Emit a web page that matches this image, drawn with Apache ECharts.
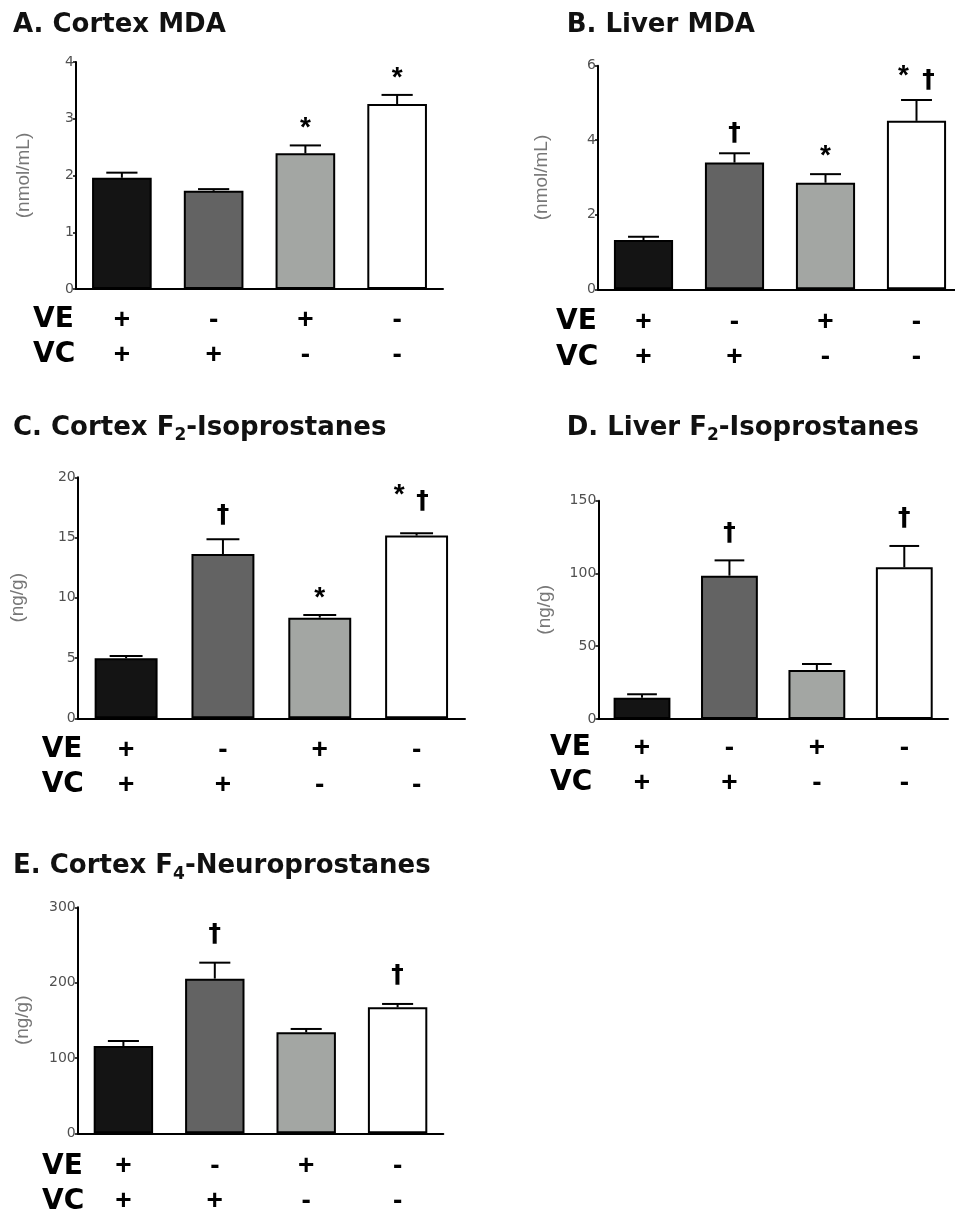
<!DOCTYPE html>
<html><head><meta charset="utf-8">
<script src="https://cdn.jsdelivr.net/npm/echarts@6/dist/echarts.min.js"></script>
<style>html,body{margin:0;padding:0;background:#fff}#c{width:955px;height:1213px}</style>
</head><body><div id="c"></div>
<script>
// ---- data ----
const categories = ['VE+ VC+', 'VE- VC+', 'VE+ VC-', 'VE- VC-'];
const veSigns = ['+', '-', '+', '-'];
const vcSigns = ['+', '+', '-', '-'];

const cortexMdaMean = [1.96, 1.73, 2.39, 3.26];
const cortexMdaSem  = [0.09, 0.03, 0.14, 0.16];
const cortexMdaSig  = ['', '', '*', '*'];

const liverMdaMean = [1.32, 3.40, 2.86, 4.52];
const liverMdaSem  = [0.09, 0.25, 0.23, 0.56];
const liverMdaSig  = ['', '†', '*', '*†'];

const cortexIsoMean = [4.98, 13.63, 8.35, 15.16];
const cortexIsoSem  = [0.19, 1.22, 0.22, 0.19];
const cortexIsoSig  = ['', '†', '*', '*†'];

const liverIsoMean = [14.6, 98.5, 33.7, 104.2];
const liverIsoSem  = [2.4, 10.5, 4.1, 14.7];
const liverIsoSig  = ['', '†', '', '†'];

const cortexNeuroMean = [115.9, 205.3, 134.1, 167.3];
const cortexNeuroSem  = [6.6, 21.2, 4.4, 4.4];
const cortexNeuroSig  = ['', '†', '', '†'];

const yMaxA = 4, yIntA = 1;
const yMaxB = 6, yIntB = 2;
const yMaxC = 20, yIntC = 5;
const yMaxD = 150, yIntD = 50;
const yMaxE = 300, yIntE = 100;

// ---- styling / layout ----
const barColors = ['#141414', '#636363', '#a3a6a3', '#ffffff'];
const TITLE_FONT = '"DejaVu Sans", sans-serif';
const ARIAL = '"Liberation Sans", Arial, sans-serif';

const panels = [
  { title: [['b','A. Cortex MDA']], mean: cortexMdaMean, sem: cortexMdaSem, sig: cortexMdaSig,
    max: yMaxA, interval: yIntA, unit: '(nmol/mL)',
    grid: {left: 76, top: 62, width: 367, height: 227}, nameGap: 43, labelMargin: 13.5,
    titlePos: [13, 25], vePos: [33, 320], vcPos: [33, 355],
    off: {'*': [0, -23], '†': [0, -22]} },
  { title: [['b','B. Liver MDA']], mean: liverMdaMean, sem: liverMdaSem, sig: liverMdaSig,
    max: yMaxB, interval: yIntB, unit: '(nmol/mL)',
    grid: {left: 598, top: 65.7, width: 364, height: 223.6}, nameGap: 47, labelMargin: 15.5,
    titlePos: [566.7, 25], vePos: [556, 322], vcPos: [556, 358],
    off: {'*': [0, -24], '†': [0, -18]}, combo: {'*': [-13, -30], '†': [12, -17]} },
  { title: [['b','C. Cortex F'],['s','2'],['b','-Isoprostanes']], mean: cortexIsoMean, sem: cortexIsoSem, sig: cortexIsoSig,
    max: yMaxC, interval: yIntC, unit: '(ng/g)',
    grid: {left: 77.7, top: 477.3, width: 387.3, height: 241}, nameGap: 50, labelMargin: 14.5,
    titlePos: [13, 428], vePos: [41.7, 750], vcPos: [41.7, 785],
    off: {'*': [0, -23], '†': [0, -22]}, combo: {'*': [-17.5, -44], '†': [6, -30]} },
  { title: [['b','D. Liver F'],['s','2'],['b','-Isoprostanes']], mean: liverIsoMean, sem: liverIsoSem, sig: liverIsoSig,
    max: yMaxD, interval: yIntD, unit: '(ng/g)',
    grid: {left: 598.3, top: 500.7, width: 349.7, height: 218.3}, nameGap: 44, labelMargin: 11.5,
    titlePos: [566.7, 428], vePos: [550, 748], vcPos: [550, 783],
    off: {'*': [0, -23], '†': [0, -25]} },
  { title: [['b','E. Cortex F'],['s','4'],['b','-Neuroprostanes']], mean: cortexNeuroMean, sem: cortexNeuroSem, sig: cortexNeuroSig,
    max: yMaxE, interval: yIntE, unit: '(ng/g)',
    grid: {left: 77.7, top: 907.3, width: 365.6, height: 226}, nameGap: 45, labelMargin: 15.5,
    titlePos: [13, 866.7], vePos: [42, 1166.7], vcPos: [42, 1201.7],
    off: {'*': [0, -23], '†': [0, -26]} }
];

// glyph fonts and centre corrections for 'middle' vertical alignment
const glyphFont = {'*': 'bold 28px ' + ARIAL, '†': 'bold 25px "DejaVu Sans"'};
const glyphShift = {'*': 6, '†': -2};

const option = {
  animation: false,
  backgroundColor: '#ffffff',
  grid: [], xAxis: [], yAxis: [], series: [], graphic: []
};

panels.forEach((p, k) => {
  option.grid.push(Object.assign({outerBoundsMode: 'none', containLabel: false}, p.grid));
  option.xAxis.push({
    type: 'category', gridIndex: k, data: categories,
    axisLine: {lineStyle: {color: '#000', width: 2}},
    axisTick: {show: false},
    axisLabel: {
      interval: 0, margin: p.labelMargin,
      formatter: (v, i) => veSigns[i] + '\n' + vcSigns[i],
      fontFamily: ARIAL, fontWeight: 'bold', fontSize: 28, color: '#000', lineHeight: 35
    }
  });
  option.yAxis.push({
    type: 'value', gridIndex: k, min: 0, max: p.max, interval: p.interval,
    name: p.unit, nameLocation: 'middle', nameRotate: 90, nameGap: p.nameGap,
    nameTextStyle: {fontFamily: ARIAL, fontSize: 19, color: '#777'},
    axisLine: {show: true, lineStyle: {color: '#000', width: 2}},
    axisTick: {show: true, length: 3, lineStyle: {color: '#000', width: 1.5}},
    axisLabel: {margin: 2, fontFamily: 'DejaVu Sans', fontSize: 14, color: '#505050'},
    splitLine: {show: false}
  });
  option.series.push({
    type: 'bar', xAxisIndex: k, yAxisIndex: k, barWidth: '65%',
    data: p.mean.map((v, i) => ({value: v, itemStyle: {color: barColors[i], borderColor: '#000', borderWidth: 2}})),
    z: 2
  });
  option.series.push({
    type: 'custom', xAxisIndex: k, yAxisIndex: k, z: 3,
    data: p.mean.map((v, i) => [i, v, p.sem[i]]),
    renderItem: (params, api) => {
      const i = api.value(0), m = api.value(1), e = api.value(2);
      const p0 = api.coord([i, m]);
      const p1 = api.coord([i, m + e]);
      const band = api.size([1, 0])[0];
      const cw = band * 0.34;
      return {type: 'group', children: [
        {type: 'line', shape: {x1: p0[0], y1: p0[1], x2: p1[0], y2: p1[1]}, style: {stroke: '#000', lineWidth: 2}},
        {type: 'line', shape: {x1: p1[0] - cw / 2, y1: p1[1], x2: p1[0] + cw / 2, y2: p1[1]}, style: {stroke: '#000', lineWidth: 2}}
      ]};
    }
  });
  option.series.push({
    type: 'custom', xAxisIndex: k, yAxisIndex: k, z: 4,
    data: p.mean.map((v, i) => [i, v + p.sem[i]]),
    renderItem: (params, api) => {
      const s = p.sig[params.dataIndex];
      if (!s) return null;
      const pt = api.coord([api.value(0), api.value(1)]);
      const table = s.length > 1 ? p.combo : p.off;
      const children = [];
      for (const ch of s) {
        const off = table[ch];
        children.push({type: 'text', x: pt[0] + off[0], y: pt[1] + off[1] + glyphShift[ch],
          style: {text: ch, fill: '#000', font: glyphFont[ch], align: 'center', verticalAlign: 'middle'}});
      }
      return {type: 'group', children};
    }
  });
  const richText = p.title.map(t => '{' + t[0] + '|' + t[1] + '}').join('');
  option.graphic.push({
    type: 'text', x: p.titlePos[0], y: p.titlePos[1], silent: true,
    style: {text: richText, align: 'left', verticalAlign: 'middle', fill: '#111',
      rich: {
        b: {fontFamily: TITLE_FONT, fontWeight: 'bold', fontSize: 26, lineHeight: 34, color: '#111'},
        s: {fontFamily: TITLE_FONT, fontWeight: 'bold', fontSize: 17, lineHeight: 17, padding: [16, 0, 0, 0], color: '#111'}
      }}
  });
  option.graphic.push({type: 'text', x: p.vePos[0], y: p.vePos[1], silent: true,
    style: {text: 'VE', font: 'bold 28px "DejaVu Sans"', fill: '#000', align: 'left', verticalAlign: 'middle'}});
  option.graphic.push({type: 'text', x: p.vcPos[0], y: p.vcPos[1], silent: true,
    style: {text: 'VC', font: 'bold 28px "DejaVu Sans"', fill: '#000', align: 'left', verticalAlign: 'middle'}});
});

const chart = echarts.init(document.getElementById('c'), null, {renderer: 'canvas'});
chart.setOption(option);
</script>
</body></html>
